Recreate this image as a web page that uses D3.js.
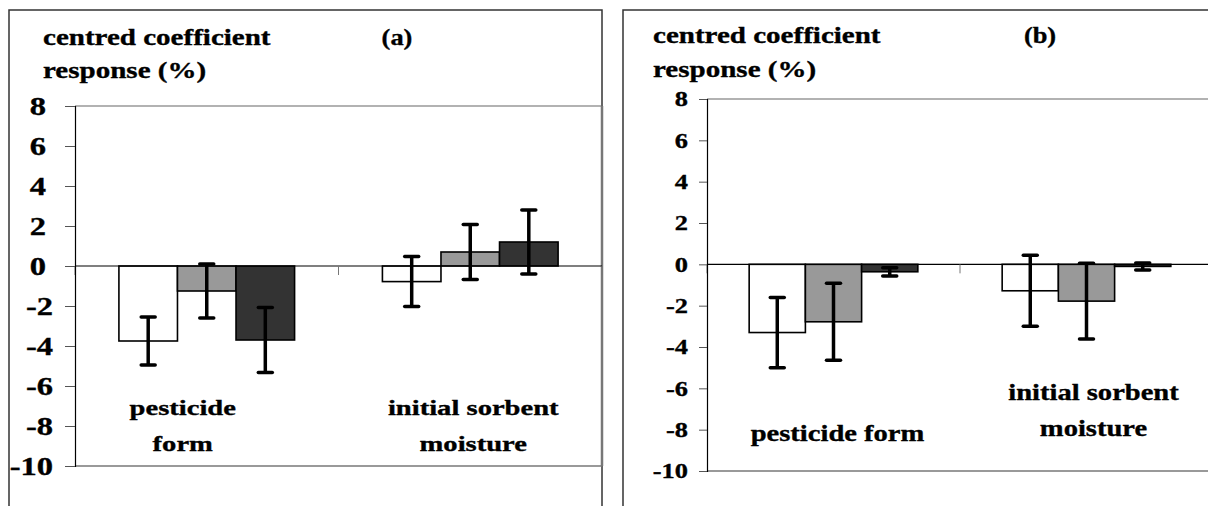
<!DOCTYPE html>
<html>
<head>
<meta charset="utf-8">
<script src="https://cdn.jsdelivr.net/npm/d3@7"></script>
<style>
    body { margin: 0; background: #fff; }
    svg { display: block; }
    text { font-family: "Liberation Serif", "Times New Roman", serif; font-weight: bold; fill: #000; stroke: #000; stroke-width: 0.35px; }
</style>
</head>
<body>
<script>
// data
var yTicks = [8, 6, 4, 2, 0, -2, -4, -6, -8, -10];
var seriesColors = ["#ffffff", "#999999", "#333333"];

var categoriesA = [["pesticide", "form"], ["initial sorbent", "moisture"]];
var valuesA = [[-3.75, -1.25, -3.7], [-0.78, 0.7, 1.2]];
var errorsA = [[1.2, 1.35, 1.62], [1.25, 1.38, 1.6]];

var categoriesB = [["pesticide form"], ["initial sorbent", "moisture"]];
var valuesB = [[-3.3, -2.78, -0.36], [-1.28, -1.78, -0.1]];
var errorsB = [[1.7, 1.86, 0.2], [1.72, 1.83, 0.17]];

var w = 1208, h = 506;

var svg = d3.select("body")
    .append("svg")
    .attr("width", w)
    .attr("height", h);

function label(g, x, y, str, size, sx, anchor) {
    g.append("text")
        .attr("transform", "translate(" + x + "," + y + ") scale(" + sx + ",1)")
        .attr("text-anchor", anchor)
        .style("font-size", size + "px")
        .text(str);
}

function drawPanel(opt, categories, values, errors) {
    var g = svg.append("g");

    // outer frame
    g.append("rect")
        .attr("x", opt.frame[0]).attr("y", opt.frame[1])
        .attr("width", opt.frame[2]).attr("height", opt.frame[3])
        .attr("fill", "none").attr("stroke", "#333").attr("stroke-width", 1.5);

    var x = d3.scaleBand()
        .domain(d3.range(categories.length))
        .range([opt.x0, opt.x1]);

    var y = d3.scaleLinear()
        .domain([-10, 8])
        .range([opt.y1, opt.y0]);

    var groupW = x.bandwidth() * 3 / 4.5;
    var x1 = d3.scaleBand()
        .domain(d3.range(seriesColors.length))
        .range([-groupW / 2, groupW / 2]);

    // plot area border
    g.append("line").attr("x1", opt.x0).attr("x2", opt.x1).attr("y1", y(8)).attr("y2", y(8))
        .attr("stroke", "#666").attr("stroke-width", 1.2);
    g.append("line").attr("x1", opt.x0).attr("x2", opt.x1).attr("y1", y(-10)).attr("y2", y(-10))
        .attr("stroke", "#777").attr("stroke-width", 1.5);
    g.append("line").attr("x1", opt.x1).attr("x2", opt.x1).attr("y1", y(8)).attr("y2", y(-10))
        .attr("stroke", "#777").attr("stroke-width", 2.5);

    // bars
    categories.forEach(function (c, i) {
        var cx = x(i) + x.bandwidth() / 2;
        g.selectAll(".bar" + i)
            .data(values[i])
            .enter()
            .append("rect")
            .attr("x", function (d, j) { return cx + x1(j); })
            .attr("width", x1.bandwidth())
            .attr("y", function (d) { return y(Math.max(0, d)); })
            .attr("height", function (d) { return Math.abs(y(d) - y(0)); })
            .attr("fill", function (d, j) { return seriesColors[j]; })
            .attr("stroke", "#000")
            .attr("stroke-width", 1.6);
    });

    // zero line
    g.append("line").attr("x1", opt.x0).attr("x2", opt.x1).attr("y1", y(0)).attr("y2", y(0))
        .attr("stroke", "#000").attr("stroke-width", 1.2);

    // category ticks below zero line
    d3.range(categories.length + 1).forEach(function (i) {
        var tx = opt.x0 + i * x.bandwidth();
        g.append("line").attr("x1", tx).attr("x2", tx).attr("y1", y(0)).attr("y2", y(0) + 9)
            .attr("stroke", "#777").attr("stroke-width", 1);
    });

    // error bars
    categories.forEach(function (c, i) {
        var cx = x(i) + x.bandwidth() / 2;
        values[i].forEach(function (v, j) {
            var ex = cx + x1(j) + x1.bandwidth() / 2;
            var e = errors[i][j];
            g.append("line").attr("x1", ex).attr("x2", ex)
                .attr("y1", y(v + e)).attr("y2", y(v - e))
                .attr("stroke", "#000").attr("stroke-width", 3.5);
            [v + e, v - e].forEach(function (yy) {
                g.append("line").attr("x1", ex - opt.cap).attr("x2", ex + opt.cap)
                    .attr("y1", y(yy)).attr("y2", y(yy))
                    .attr("stroke", "#000").attr("stroke-width", 3.5)
                    .attr("stroke-linecap", "round");
            });
        });
    });

    // y axis
    var axis = g.append("g")
        .attr("transform", "translate(" + opt.x0 + ",0)")
        .call(d3.axisLeft(y).tickValues(yTicks).tickSize(opt.tickLen).tickFormat(""));
    axis.select(".domain").attr("stroke", "#000").attr("stroke-width", 1.2);
    axis.selectAll(".tick line").attr("stroke", "#555");

    // tick labels use a plain hyphen, as in the original
    yTicks.forEach(function (t) {
        var ax = t < 0 ? opt.negX : opt.posX;
        label(g, ax, y(t) + opt.tickFont * 0.34, String(t), opt.tickFont, opt.tickSx, "end");
    });

    // titles
    label(g, opt.titleX, opt.titleY[0], "centred coefficient", 24, 1.21, "start");
    label(g, opt.titleX, opt.titleY[1], "response (%)", 24, 1.21, "start");
    label(g, opt.tagX, opt.titleY[0], opt.tag, 24, 1.1, "middle");

    // category labels
    categories.forEach(function (c, i) {
        var cx = x(i) + x.bandwidth() / 2 + opt.catDX[i];
        c.forEach(function (line, k) {
            label(g, cx, opt.catY[i] + k * 36, line, opt.catFont, opt.catSx, "middle");
        });
    });
}

drawPanel({
    frame: [9, 10, 593, 520],
    x0: 75, x1: 602, y0: 106, y1: 466,
    tickLen: 10, tickFont: 25, tickSx: 1.3, posX: 46, negX: 53,
    cap: 7,
    titleX: 43, titleY: [45, 78], tag: "(a)", tagX: 397,
    catY: [415, 415], catDX: [-24, 3], catFont: 22, catSx: 1.3
}, categoriesA, valuesA, errorsA);

drawPanel({
    frame: [623, 10, 620, 520],
    x0: 707, x1: 1213, y0: 99, y1: 471,
    tickLen: 8, tickFont: 22, tickSx: 1.2, posX: 688, negX: 688,
    cap: 7,
    titleX: 653, titleY: [43, 77], tag: "(b)", tagX: 1040,
    catY: [441, 400], catDX: [4, 7], catFont: 24, catSx: 1.19
}, categoriesB, valuesB, errorsB);
</script>
</body>
</html>
